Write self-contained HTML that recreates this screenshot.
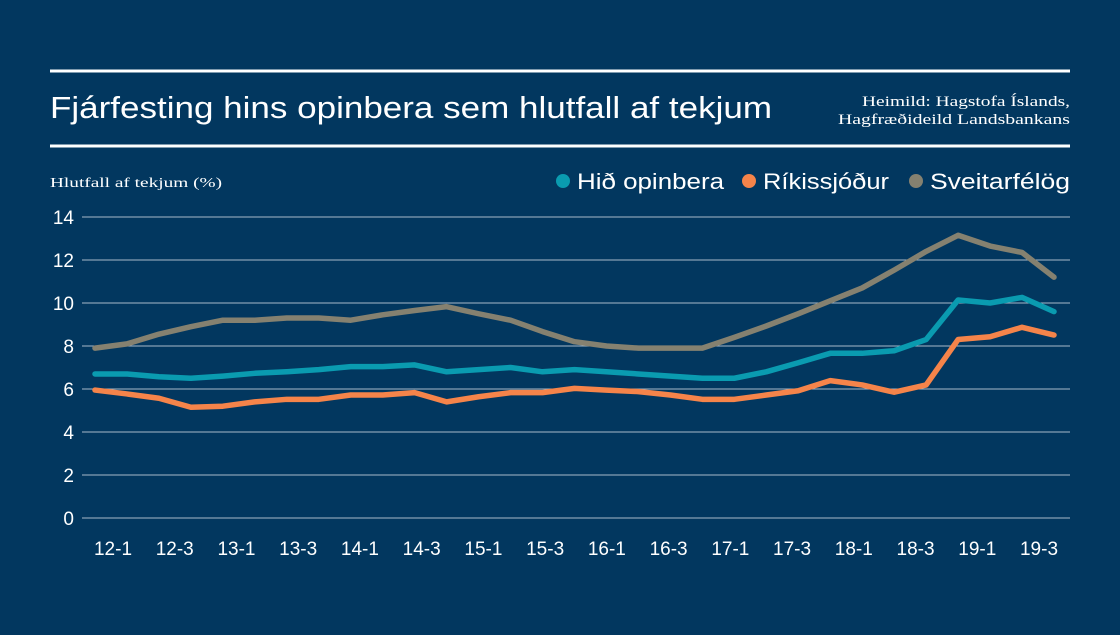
<!DOCTYPE html>
<html><head><meta charset="utf-8"><style>
body{margin:0;background:#02375f;width:1120px;height:630px;overflow:hidden;font-family:"Liberation Sans",sans-serif;}
</style></head><body>
<svg width="1120" height="630">
<rect width="1120" height="630" fill="#02375f"/>
<line x1="50" x2="1070" y1="71" y2="71" stroke="#fff" stroke-width="3"/>
<line x1="50" x2="1070" y1="146" y2="146" stroke="#fff" stroke-width="3"/>
<text x="50" y="118" fill="#fff" font-size="31" textLength="722" lengthAdjust="spacingAndGlyphs">Fjárfesting hins opinbera sem hlutfall af tekjum</text>
<text x="862" y="106" fill="#fff" font-size="15" textLength="208" lengthAdjust="spacingAndGlyphs" font-family="Liberation Serif, serif">Heimild: Hagstofa Íslands,</text>
<text x="838" y="124" fill="#fff" font-size="15" textLength="232" lengthAdjust="spacingAndGlyphs" font-family="Liberation Serif, serif">Hagfræðideild Landsbankans</text>
<text x="50" y="187" fill="#fff" font-size="14" textLength="172" lengthAdjust="spacingAndGlyphs" font-family="Liberation Serif, serif">Hlutfall af tekjum (%)</text>
<g>
<circle cx="563" cy="181" r="7" fill="#0a9bb0"/>
<text x="577" y="189" fill="#fff" font-size="22" textLength="147" lengthAdjust="spacingAndGlyphs">Hið opinbera</text>
<circle cx="749" cy="181" r="7" fill="#f5844a"/>
<text x="763" y="189" fill="#fff" font-size="22" textLength="126" lengthAdjust="spacingAndGlyphs">Ríkissjóður</text>
<circle cx="916" cy="181" r="7" fill="#858170"/>
<text x="930" y="189" fill="#fff" font-size="22" textLength="140" lengthAdjust="spacingAndGlyphs">Sveitarfélög</text>
</g>
<g id="plot"></g>
</svg>
<script>
const yTicks=[0,2,4,6,8,10,12,14];
const xLabels=["12-1","12-3","13-1","13-3","14-1","14-3","15-1","15-3","16-1","16-3","17-1","17-3","18-1","18-3","19-1","19-3"];
const hidOpinbera=[6.7,6.7,6.57,6.5,6.6,6.73,6.8,6.9,7.04,7.04,7.12,6.8,6.9,7.0,6.8,6.9,6.8,6.7,6.6,6.5,6.5,6.8,7.22,7.66,7.66,7.78,8.3,10.14,10.0,10.26,9.6];
const rikissjodur=[5.95,5.77,5.57,5.15,5.2,5.4,5.52,5.52,5.72,5.72,5.83,5.4,5.64,5.83,5.83,6.03,5.95,5.88,5.72,5.52,5.52,5.72,5.92,6.39,6.19,5.85,6.19,8.3,8.43,8.87,8.51];
const sveitarfelog=[7.9,8.1,8.55,8.9,9.2,9.2,9.3,9.3,9.2,9.45,9.65,9.83,9.5,9.2,8.67,8.2,8.0,7.9,7.9,7.9,8.4,8.93,9.5,10.1,10.7,11.53,12.4,13.15,12.65,12.35,11.2];
const NS="http://www.w3.org/2000/svg";
const plot=document.getElementById('plot');
const y=v=>518-v*21.5;
const x=i=>95+i*(1054-95)/(hidOpinbera.length-1);
const xl=k=>113+k*(1039-113)/(xLabels.length-1);
function mk(t,a){const e=document.createElementNS(NS,t);for(const k in a)e.setAttribute(k,a[k]);plot.appendChild(e);return e;}
yTicks.forEach(v=>{
 const l=mk('line',{x1:82,x2:1070,y1:y(v),y2:y(v),stroke:'#a8b8c8','stroke-width':1});
 
 
 const t=mk('text',{x:74,y:y(v)+7,fill:'#fff','font-size':19,'text-anchor':'end'});
 t.textContent=v;
 
 
});
xLabels.forEach((s,k)=>{
 const t=mk('text',{x:xl(k),y:555,fill:'#fff','font-size':19,'text-anchor':'middle'});
 t.textContent=s;
 
 
});
[[sveitarfelog,'#858170','line-sveitarfelog'],[hidOpinbera,'#0a9bb0','line-hid-opinbera'],[rikissjodur,'#f5844a','line-rikissjodur']].forEach(([d,c,n])=>{
 const p=mk('polyline',{points:d.map((v,i)=>x(i)+','+y(v)).join(' '),fill:'none',stroke:c,'stroke-width':5.5,'stroke-linejoin':'round','stroke-linecap':'round'});
 
 
});
</script>
</body></html>
